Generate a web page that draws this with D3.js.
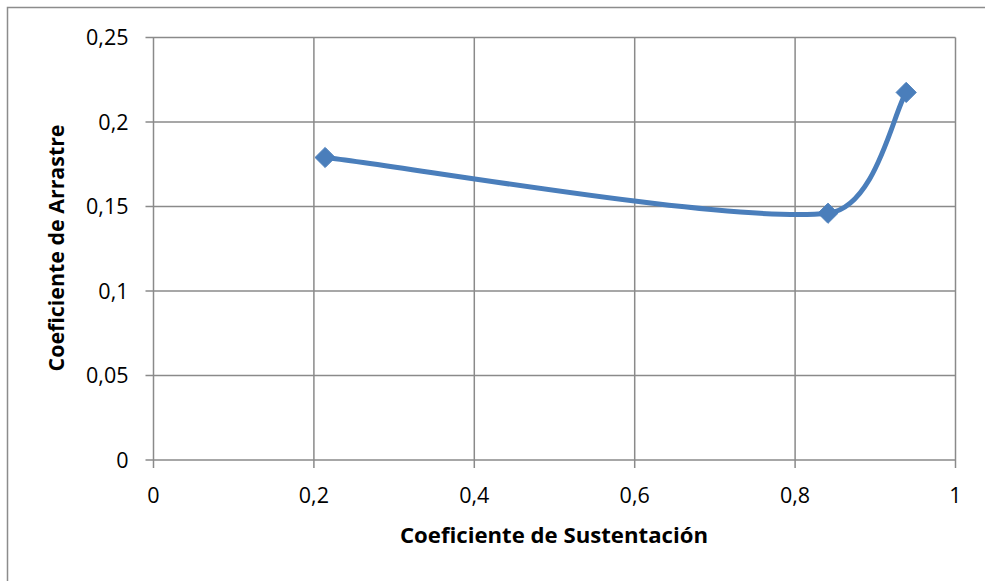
<!DOCTYPE html>
<html><head><meta charset="utf-8">
<script src="https://cdn.jsdelivr.net/npm/d3@7"></script>
<style>body{margin:0;background:#fff}svg{display:block}text{font-family:"Open Sans",Lato,sans-serif}</style>
</head><body><div id="chart"></div>
<script>
const xValues = [0.214, 0.841, 0.9385];
const yValues = [0.179, 0.146, 0.2175];
const xTicks = [0, 0.2, 0.4, 0.6, 0.8, 1];
const yTicks = [0, 0.05, 0.1, 0.15, 0.2, 0.25];
const xTitle = "Coeficiente de Sustentación";
const yTitle = "Coeficiente de Arrastre";

const W = 985, H = 581;
const svg = d3.select("#chart").append("svg").attr("width", W).attr("height", H);
svg.append("rect").attr("x", 7.5).attr("y", 7.5).attr("width", 1000).attr("height", 600)
  .attr("fill", "none").attr("stroke", "#8c8c8c").attr("stroke-width", 1.5);

const x = d3.scaleLinear().domain([0, 1]).range([153.5, 955.5]);
const y = d3.scaleLinear().domain([0, 0.25]).range([460, 37.5]);
const fmt = d => String(+d.toFixed(2)).replace(".", ",");
const grid = "#8a8a8a";

const g = svg.append("g");
g.selectAll(".vg").data(xTicks).join("line")
  .attr("x1", d => x(d)).attr("x2", d => x(d)).attr("y1", y(0.25)).attr("y2", y(0) + 8)
  .attr("stroke", grid).attr("stroke-width", 1.5);
g.selectAll(".hg").data(yTicks).join("line")
  .attr("y1", d => y(d)).attr("y2", d => y(d)).attr("x1", x(0) - 8).attr("x2", x(1))
  .attr("stroke", grid).attr("stroke-width", 1.5);

g.selectAll(".xl").data(xTicks).join("text")
  .attr("x", d => x(d)).attr("y", y(0) + 43).attr("text-anchor", "middle")
  .attr("font-size", 21.5).attr("fill", "#000").text(fmt);
g.selectAll(".yl").data(yTicks).join("text")
  .attr("x", x(0) - 25).attr("y", d => y(d) + 7.5).attr("text-anchor", "end")
  .attr("font-size", 21.5).attr("fill", "#000").text(fmt);

svg.append("text").attr("x", 554).attr("y", 543).attr("text-anchor", "middle")
  .attr("font-size", 20.5).attr("font-weight", "bold").attr("textLength", 308)
  .attr("lengthAdjust", "spacingAndGlyphs").text(xTitle);
svg.append("text").attr("transform", "translate(64,248) rotate(-90)").attr("text-anchor", "middle")
  .attr("font-size", 20.5).attr("font-weight", "bold").attr("textLength", 247)
  .attr("lengthAdjust", "spacingAndGlyphs").text(yTitle);

// Excel-like smoothed line: Catmull-Rom (1/6) arms, capped at one third of the segment
const pts = xValues.map((v, i) => [x(v), y(yValues[i])]);
const dist = (a, b) => Math.hypot(b[0] - a[0], b[1] - a[1]);
const arm = (A, B, segLen) => {
  let ax = (B[0] - A[0]) / 6, ay = (B[1] - A[1]) / 6;
  const L = Math.hypot(ax, ay), cap = segLen / 3;
  if (L > cap) { ax *= cap / L; ay *= cap / L; }
  return [ax, ay];
};
const p = d3.path();
p.moveTo(pts[0][0], pts[0][1]);
for (let i = 0; i < pts.length - 1; i++) {
  const P1 = pts[i], P2 = pts[i + 1];
  const P0 = pts[i - 1] || P1, P3 = pts[i + 2] || P2;
  const d = dist(P1, P2);
  const a1 = arm(P0, P2, d), a2 = arm(P1, P3, d);
  p.bezierCurveTo(P1[0] + a1[0], P1[1] + a1[1], P2[0] - a2[0], P2[1] - a2[1], P2[0], P2[1]);
}
svg.append("path").attr("d", p.toString()).attr("fill", "none")
  .attr("stroke", "#4a7ebb").attr("stroke-width", 5).attr("stroke-linecap", "round");
svg.selectAll(".m").data(pts).join("path")
  .attr("transform", d => `translate(${d[0]},${d[1]})`)
  .attr("d", d3.symbol(d3.symbolDiamond2, 260)())
  .attr("fill", "#4a7ebb").attr("stroke", "#4a7ebb").attr("stroke-width", 1);
</script></body></html>
